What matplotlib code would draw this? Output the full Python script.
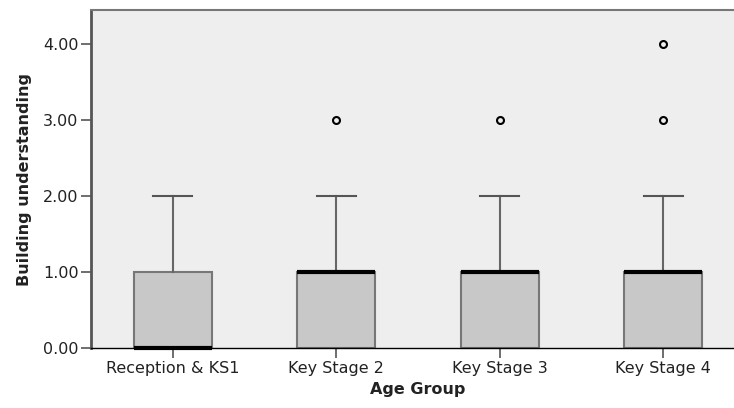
import matplotlib
matplotlib.use("Agg")
import matplotlib.pyplot as plt

groups = ["Reception & KS1", "Key Stage 2", "Key Stage 3", "Key Stage 4"]
q1 = [0, 0, 0, 0]
medians = [0, 1, 1, 1]
q3 = [1, 1, 1, 1]
whislo = [0, 0, 0, 0]
whishi = [2, 2, 2, 2]
outliers = [[], [3], [3], [3, 4]]

stats = []
for i, g in enumerate(groups):
    stats.append({"label": g, "q1": q1[i], "med": medians[i], "q3": q3[i],
                  "whislo": whislo[i], "whishi": whishi[i], "fliers": outliers[i]})

fig = plt.figure(figsize=(7.34, 4.08), dpi=100)
ax = fig.add_axes([91 / 734, 60 / 408, 654 / 734, 338 / 408])
ax.set_facecolor("#eeeeee")

bp = ax.bxp(stats, positions=range(len(groups)), widths=0.48, patch_artist=True,
            boxprops=dict(facecolor="#c8c8c8", edgecolor="#777777", linewidth=1.5),
            medianprops=dict(color="black", linewidth=3),
            whiskerprops=dict(color="#666666", linewidth=1.5),
            capprops=dict(color="#555555", linewidth=1.5),
            capwidths=0.24,
            flierprops=dict(marker="o", markersize=5, markerfacecolor="none",
                            markeredgecolor="black", markeredgewidth=1.5))
for m in bp["medians"]:
    m.set_clip_on(False)
    m.set_zorder(5)
# lower caps sit on the axis and are not shown
for c in bp["caps"][0::2]:
    c.set_visible(False)

ax.set_xlim(-0.5, 3.5)
ax.set_ylim(0, 4.447)
ax.set_yticks([0, 1, 2, 3, 4])
ax.set_yticklabels(["%.2f" % v for v in [0, 1, 2, 3, 4]])
ax.set_xticks(range(len(groups)))
ax.set_xticklabels(groups)
ax.tick_params(axis="both", labelsize=11.5, colors="#555555", labelcolor="#222222", width=1.2, length=7, pad=2)

for s in ["top", "right"]:
    ax.spines[s].set_color("#777777")
    ax.spines[s].set_linewidth(1.5)
ax.spines["left"].set_color("#555555")
ax.spines["left"].set_linewidth(2)
ax.spines["bottom"].set_color("black")
ax.spines["bottom"].set_linewidth(1)
ax.spines["bottom"].set_zorder(4)

ax.set_xlabel("Age Group", fontsize=11.5, fontweight="bold", color="#222222", labelpad=5)
ax.set_ylabel("Building understanding", fontsize=11.5, fontweight="bold", color="#222222", labelpad=8)

fig.savefig("out.png", dpi=100)
